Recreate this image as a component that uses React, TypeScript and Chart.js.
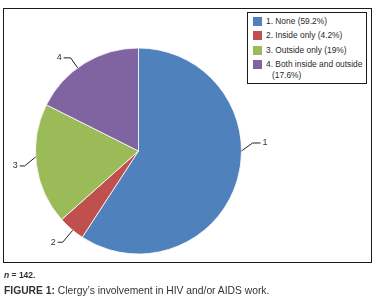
import React, { useEffect, useRef } from "react";
import { Chart, registerables } from "chart.js";

Chart.register(...registerables);

const categories = ["1. None (59.2%)", "2. Inside only (4.2%)", "3. Outside only (19%)", "4. Both inside and outside (17.6%)"];
const sliceNumbers = ["1", "2", "3", "4"];
const values = [59.2, 4.2, 19, 17.6];
const colors = ["#4F81BD", "#C0504D", "#9BBB59", "#8064A2"];
const legendLines = [["1. None (59.2%)"], ["2. Inside only (4.2%)"], ["3. Outside only (19%)"], ["4. Both inside and outside", "(17.6%)"]];

// leader anchors: angle on the rim (deg clockwise from top), elbow offset, horizontal run
const leaders = [
  { angle: 90, ex: 11, ey: -8, run: 8 },
  { angle: 219.7, ex: -10, ey: 12, run: -5 },
  { angle: 266.7, ex: -11, ey: 9, run: -5 },
  { angle: 323.8, ex: -7, ey: -10, run: -7 },
];

const FONT = "'Liberation Sans', Arial, sans-serif";

const leaderPlugin = {
  id: "leaders",
  afterDatasetsDraw(chart: any) {
    const meta = chart.getDatasetMeta(0);
    const arc = meta.data[0];
    if (!arc) return;
    const { x, y, outerRadius } = arc.getProps(["x", "y", "outerRadius"], true);
    const ctx = chart.ctx;
    ctx.save();
    ctx.strokeStyle = "#222";
    ctx.lineWidth = 1;
    ctx.fillStyle = "#333";
    ctx.font = `9px ${FONT}`;
    ctx.textBaseline = "middle";
    leaders.forEach((l, i) => {
      const a = (l.angle * Math.PI) / 180;
      const ax = x + outerRadius * Math.sin(a);
      const ay = y - outerRadius * Math.cos(a);
      const bx = ax + l.ex;
      const by = ay + l.ey;
      const cx = bx + l.run;
      ctx.beginPath();
      ctx.moveTo(ax, ay);
      ctx.lineTo(bx, by);
      ctx.lineTo(cx, by);
      ctx.stroke();
      if (l.run > 0) {
        ctx.textAlign = "left";
        ctx.fillText(sliceNumbers[i], cx + 2, by);
      } else {
        ctx.textAlign = "right";
        ctx.fillText(sliceNumbers[i], cx - 2, by);
      }
    });
    ctx.restore();
  },
};

export default function App() {
  const ref = useRef<HTMLCanvasElement | null>(null);
  useEffect(() => {
    document.body.style.margin = "0";
    const chart = new Chart(ref.current!, {
      type: "pie",
      data: {
        labels: categories,
        datasets: [
          {
            data: values,
            backgroundColor: colors,
            borderColor: "#ffffff",
            borderWidth: 0.8,
            radius: 103,
          },
        ],
      },
      options: {
        animation: false,
        responsive: false,
        maintainAspectRatio: false,
        layout: { padding: { left: 35.5, right: 136.5, top: 48, bottom: 46 } },
        plugins: { legend: { display: false }, tooltip: { enabled: false } },
      },
      plugins: [leaderPlugin],
    });
    return () => chart.destroy();
  }, []);

  return (
    <div style={{ position: "relative", width: 378, height: 300, background: "#fff", overflow: "hidden", fontFamily: FONT }}>
      <div style={{ position: "absolute", left: 3, top: 8, width: 367, height: 253, border: "1.2px solid #1a1a1a" }} />
      <div
        style={{
          position: "absolute",
          left: 247,
          top: 12,
          width: 118,
          height: 70,
          border: "1px solid #1a1a1a",
          background: "#fff",
        }}
      />
      {legendLines.map((lines, i) => (
        <div key={i} style={{ position: "absolute", left: 253, top: 16 + i * 14.3, display: "flex", alignItems: "flex-start" }}>
          <div style={{ width: 9, height: 9, background: colors[i], marginTop: 1 }} />
          <div style={{ marginLeft: 4, fontSize: 8.4, lineHeight: "11.5px", color: "#2a2a2a", whiteSpace: "nowrap" }}>
            {lines.map((t, j) => (
              <div key={j} style={{ marginLeft: j > 0 ? 6 : 0 }}>{t}</div>
            ))}
          </div>
        </div>
      ))}
      <canvas ref={ref} width={378} height={300} style={{ position: "absolute", left: 0, top: 0, width: 378, height: 300 }} />
      <div style={{ position: "absolute", left: 4, top: 270, fontSize: 8.5, fontWeight: "bold", color: "#333" }}>
        <i>n</i> = 142.
      </div>
      <div style={{ position: "absolute", left: 4, top: 285, fontSize: 10.3, color: "#333", whiteSpace: "nowrap" }}>
        <b>FIGURE 1:</b> Clergy’s involvement in HIV and/or AIDS work.
      </div>
    </div>
  );
}
